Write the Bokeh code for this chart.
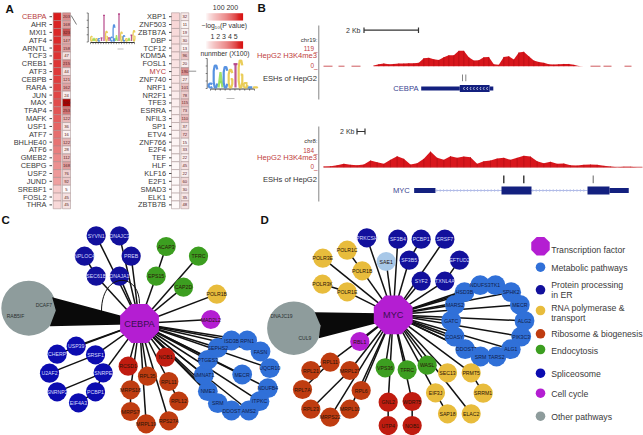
import numpy as np
from bokeh.plotting import figure
from bokeh.models import Range1d
from bokeh.core.properties import value
from bokeh.embed import file_html
from bokeh.resources import INLINE

# ---------------- Panel A data ----------------
genes_a1 = ["CEBPA","AHR","MXI1","ATF4","ARNTL","TCF3","CREB1","ATF3","CEBPB","RARA","JUN","MAX","TFAP4","MAFK","USF1","ATF7","BHLHE40","ATF6","GMEB2","CEBPG","USF2","JUND","SREBF1","FOSL2","THRA"]
logp_a1 = [250,240,235,232,228,222,218,214,208,204,198,192,182,172,162,152,146,134,122,112,102,96,48,38,34]
num_a1 = [203,168,323,147,158,47,215,44,121,162,24,500,253,122,36,16,122,28,112,168,76,92,5,45,45]
genes_a2 = ["XBP1","ZNF503","ZBTB7A","DBP","TCF12","KDM5A","FOSL1","MYC","ZNF740","NRF1","NR2F1","TFE3","ESRRA","NFIL3","SP1","ETV4","ZNF766","E2F4","TEF","HLF","KLF16","E2F1","SMAD3","ELK1","ZBTB7B"]
logp_a2 = [38,36,33,30,28,26,24,22,20,18,15,14,12,12,10,9,8,7,6,6,5,5,4,4,3]
num_a2 = [32,11,19,30,13,96,20,190,27,101,78,115,73,110,37,72,15,33,22,45,22,60,30,35,48]
colorbar_labels = ["100 200", "1 2 3 4 5"]

# motif logos: letter and information content (bits)
logo_cebpa_letters = list("GAGCTTGTCCATGCGATG")
logo_cebpa_bits = [.45,.35,.3,.3,.35,1.9,.8,.35,.4,1.25,.55,2.0,.75,.5,.3,.35,.55,.85]
logo_myc_letters = list("CCACGTGGCG")
logo_myc_bits = [.4,1.65,1.2,1.55,1.35,1.75,2.0,.45,.15,.15]

# ---------------- Panel B data (signal sampled on a regular grid) ----------------
cebpa_signal = [5,15,20,15,17,20,20,22,22,25,60,62,52,47,67,82,82,114,114,67,42,45,67,69,15,10,69,74,50,102,107,74,42,32,25,15,12,15,17,17,10,2,0]
myc_signal = [7,11,22,37,26,22,29,73,55,37,81,121,92,29,44,92,172,103,81,121,103,117,110,37,66,73,95,103,81,103,125,117,66,44,59,37,40,22,18,26,29,26,15,7,0,4,4,0,0]

# ---------------- Network data ----------------
C_COL = {"er":"#12109c","met":"#3070d8","pol":"#e8bc3c","rib":"#bf3c10","rib2":"#c01c10","endo":"#3c9e20","spl":"#0c0cb0","cyc":"#b41ed2","sae":"#a8c8e8"}
c_names = ["SYVN1","DNAJC3","NPLOC4","PREB","SEC61B","DNAJA1",
           "USP39","SRSF1","CHERP","SNRPE","U2AF2","SNRNP2","PCBP1","EIF4A3",
           "ACAP3","TFRC","EPS15","CAP2D","POLR1B","MAD2L2",
           "NOB1","RCSD1","RPL35","RPL11","MRPS18","RPL12","MRPS7","MRPL19","RPS27A"]
c_x = [287,357,252,392,287,357, 227,285,170,308,147,170,285,234, 497,594,467,549,649,631, 495,383,441,505,390,535,390,437,505]
c_y = [76,76,137,137,197,197, 407,433,431,487,488,544,544,577, 108,137,197,230,251,327, 440,467,497,513,538,572,603,640,631]
c_grp = ["er"]*6+["spl"]*8+["endo"]*4+["pol","cyc"]+["rib2"]*2+["rib"]*7
c_parent = [None,None,"SEC61B",None,None,None, None,None,None,None,"SRSF1","SNRPE","SNRPE","PCBP1", "EPS15",None,None,None,None,None, None,None,None,None,None,"RPL11","MRPS18",None,None]
c_ring_names = ["ISD3B","RPN1","FASN","UQCR10","NDUFB4","ITPKC","AMS2","DDOST","SRM","NME3","NMNAT1","PTGES3","SEPHS2","MECR"]
c_ring_x = [138,185,225,253,247,222,190,138,97,67,55,67,97,170]
c_ring_y = [60,60,93,143,203,242,270,270,248,212,163,118,82,162]

d_names = ["PRKCSH","SF3B4","PCBP1","SRSF7","SF3B5","SAE1","EFTUD2","SYF2","TXNL4A",
           "POLR3E","POLR1C","POLR1B","POLR3K","POLR1E","RBL1",
           "RPL11","RPL21","MRPL27","RPL7A","RPL6","RPL23","MRPL10","MRPS22",
           "GNL2","WDR75","UTP4","NOB1","VPS36","TFRC","WASL",
           "SEC13","PRMT5","EIF3J","SRRM1","SAP18","ELAC2"]
d_x = [334,427,497,568,461,392,612,497,568, 202,275,320,201,275,313, 224,166,283,141,317,166,283,224, 398,470,398,470,389,455,515, 576,647,540,683,576,647]
d_y = [82,86,86,86,149,153,149,212,212, 143,119,181,221,244,393, 455,480,480,537,540,596,596,620, 575,573,645,645,472,478,464, 487,487,547,548,610,610]
d_grp = ["er"]*5+["sae"]+["er"]*3+["pol"]*5+["cyc"]+["rib"]*8+["rib2"]*4+["endo"]*3+["pol"]*6
d_parent = [None,None,"SF3B5",None,None,None,"TXNL4A",None,None, None,"POLR1B",None,"POLR1E",None,None,
            None,"RPL11",None,"RPL11",None,"MRPL27",None,None, None,None,"GNL2","WDR75",None,None,None,
            None,None,None,"PRMT5","EIF3J",None]
d_ring_names = ["NDUFS3","TK1","SPHK2","MECR","ALG2","PIK3C3","ALG1","TARS2","SRM","DDOST","COASY","GATC","MARS2","HSD3B"]
d_ring_x = [134,180,227,253,267,257,226,183,135,89,57,47,58,87]
d_ring_y = [44,44,65,103,151,198,236,258,258,236,198,151,103,65]

legend_labels = ["Transcription factor","Metabolic pathways","Protein processing\nin ER","RNA polymerase &\ntransport","Ribosome & biogenesis","Endocytosis","Spliceosome","Cell cycle","Other pathways"]
legend_colors = ["#b41ed2","#3070d8","#12109c","#e8bc3c","#bf3c10","#3c9e20","#0c0cb0","#b41ed2","#8e9c9c"]

# ---------------- Canvas ----------------
FONT = value("Liberation Sans")
p = figure(width=643, height=435, x_range=Range1d(0,643), y_range=Range1d(435,0),
           output_backend="svg", toolbar_location=None, min_border=0)
p.axis.visible = False
p.grid.visible = False
p.outline_line_color = None
p.background_fill_color = "white"

def txt(x, y, s, size=7.5, color="#333333", align="right", base="middle", style="normal"):
    p.text([x],[y],text=[s],text_font=FONT,text_font_size=f"{size}px",text_color=color,
           text_align=align,text_baseline=base,text_font_style=style)

def seg(x0,y0,x1,y1,color="#333333",w=1.0,dash="solid"):
    p.segment([x0],[y0],[x1],[y1],line_color=color,line_width=w,line_dash=dash)

for s,x,y in (("A",5,8),("B",257,7),("C",1,219.5),("D",260,219)):
    txt(x,y,s,size=11.5,color="#111111",align="left",style="bold")

# ---------------- Panel A ----------------
def ramp(v, vmax, top=(216,20,20)):
    t = min(v/vmax,1.0)**0.9
    return "#%02x%02x%02x" % tuple(int(255+(c-255)*t) for c in top)

ROW_H = 7.84
def heat(genes, logp, num, x_lab, x1, x2, hl):
    n = len(genes)
    ys = [16.2+i*ROW_H for i in range(n)]
    p.rect([x1+4]*n, ys, 8, ROW_H, fill_color=[ramp(v,260) for v in logp], line_color="#a08a8a", line_width=0.5)
    p.rect([x2+4]*n, ys, 8, ROW_H, fill_color=[ramp(v,500,(170,0,0)) for v in num], line_color="#a08a8a", line_width=0.5)
    p.segment([x_lab+3]*n, ys, [x_lab+5.5]*n, ys, line_color="#333333", line_width=0.9)
    cols = ["#b83a3a" if g==hl else "#3a3a3a" for g in genes]
    p.text([x_lab]*n, ys, text=genes, text_font=FONT, text_font_size="7.4px", text_color=cols, text_align="right", text_baseline="middle")
    p.text([x2+4]*n, ys, text=[str(v) for v in num], text_font=FONT, text_font_size="4.2px",
           text_color=["#5a2020"]*n, text_align="center", text_baseline="middle")

heat(genes_a1, logp_a1, num_a1, 46, 52.7, 62, "CEBPA")
heat(genes_a2, logp_a2, num_a2, 165.5, 171, 180.3, "MYC")
seg(70.7,15,76,24,"#555555",0.8)
seg(188.5,70.7,195.7,70.7,"#777777",0.8)

# colour bars
t = np.linspace(0,1,37)
for yb in (16.4,44.5):
    p.rect(205+t*37, [yb]*37, 1.2, 7.4, fill_color=[ramp(v,1.0) for v in t], line_color=None)
txt(225,6.8,colorbar_labels[0],size=7,align="center")
txt(223.5,36,colorbar_labels[1],size=7,align="center")
txt(224,25.2,"\u2212log\u2081\u2080(P value)",size=6.8,align="center")
txt(224.5,52.6,"nunmber (X100)",size=6.8,align="center")

# logos drawn as scaled strokes
SHAPES = {
 "C":[[(.95,.82),(.7,1),(.3,1),(.05,.75),(.05,.25),(.3,0),(.7,0),(.95,.18)]],
 "G":[[(.95,.82),(.7,1),(.3,1),(.05,.75),(.05,.25),(.3,0),(.7,0),(.95,.2),(.95,.48),(.55,.48)]],
 "A":[[(.02,0),(.5,1),(.98,0)],[(.2,.35),(.8,.35)]],
 "T":[[(0,1),(1,1)],[(.5,1),(.5,0)]],
}
LOGO_COL = {"C":"#3a7fdc","G":"#e6c43c","A":"#8fdc50","T":"#b03a80"}

def logo(letters, bits, x0, step, base, scale, lw):
    xs,ys,cs = [],[],[]
    for i,(l,b) in enumerate(zip(letters,bits)):
        for stroke in SHAPES[l]:
            xs.append([x0+i*step+(u-.5)*step*0.8 for u,v in stroke])
            ys.append([base-1-v*(b*scale-2) for u,v in stroke])
            cs.append(LOGO_COL[l])
    p.multi_line(xs,ys,line_color=cs,line_width=lw,line_alpha=0.85)

def logo_axes(xa, x0, x1, ytop, base, n, nl):
    seg(xa,ytop,xa,base,"#333333",0.7)
    seg(x0,base+0.5,x1,base+0.5,"#222222",0.9)
    for i in range(n):
        xx = x0+i*(x1-x0)/(n-1)
        seg(xx,base+0.5,xx,base+2.2,"#222222",0.5)
    for i in range(nl):
        yy = ytop+i*(base-ytop)/(nl-1)
        seg(xa-1.5,yy,xa,yy,"#333333",0.6)

logo_axes(87.7,90,134,12.5,41.5,18,5)
logo(logo_cebpa_letters,logo_cebpa_bits,91,2.5,41.5,14.5,1.3)
logo_axes(206.7,210,254,58,88,10,5)
logo(logo_myc_letters,logo_myc_bits,210,5,88,14.5,2.2)
seg(117,48.5,123,48.5,"#bdbdbd",1)
seg(226,98,234,98,"#bdbdbd",1)

# ---------------- Panel B ----------------
BLUE = "#13207f"
def track(signal, x0, step, base, vmax, px):
    xs = x0+np.arange(len(signal))*step
    ys = base-np.array(signal)/vmax*px
    p.varea(xs,[base]*len(xs),ys,fill_color="#d8161c")
    p.segment(xs,[base]*len(xs),xs,ys,line_color="#b80f14",line_width=0.8)

seg(318.3,25,318.3,99,"#777777",0.9)
seg(318.3,126,318.3,201,"#777777",0.9)

# top track
track(cebpa_signal,373.3,5,65.7,119,16)
p.segment([323,338,351,590,603,624],[65.7]*6,[332,344,360,600,611,631],[65.7]*6,line_color="#c8484c",line_width=0.9)
seg(363.5,29.7,418,29.7,"#333333",1.2)
seg(363.5,27,363.5,32.5,"#333333",1.2)
seg(418,27,418,32.5,"#333333",1.2)
txt(360,29.5,"2 Kb",size=7,align="right")
txt(317,39,"chr19:",size=6,align="right")
txt(317,48,"119_",size=6.4,color="#c04040",align="right")
txt(316.5,54.5,"HepG2 H3K4me3",size=7.6,color="#c04040",align="right")
txt(317,65,"0_",size=6.4,color="#c04040",align="right")
txt(316.5,77.7,"ESHs of HepG2",size=7.6,color="#333333",align="right")
txt(418,88.3,"CEBPA",size=7.6,color="#3a3f8f",align="right")
seg(462,74,462,80.7,"#666666",0.8)
seg(465.3,74,465.3,80.7,"#666666",0.8)
p.rect([440,474.2,491],[88,88,88],[38.6,29.8,3.6],[3.8,7,3.8],fill_color=BLUE,line_color=None)
cx = np.arange(463,488,3.3)
p.multi_line([[c+1,c,c+1] for c in cx],[[86.5,88,89.5] for c in cx],line_color="white",line_width=0.7)

# bottom track
track(myc_signal,323.3,6.667,166.7,184,16.7)
seg(323,166.7,642,166.7,"#c8282c",0.7)
seg(356.5,131,364.5,131,"#333333",1.2)
seg(356.5,128,356.5,134,"#333333",1.2)
seg(364.5,128,364.5,134,"#333333",1.2)
txt(354,130.5,"2 Kb",size=7,align="right")
txt(317,140,"chr8:",size=6,align="right")
txt(317,149.5,"184_",size=6.4,color="#c04040",align="right")
txt(316.5,156.5,"HepG2 H3K4me3",size=7.6,color="#c04040",align="right")
txt(317,165.5,"0_",size=6.4,color="#c04040",align="right")
txt(316.5,179,"ESHs of HepG2",size=7.6,color="#333333",align="right")
txt(409.3,190,"MYC",size=7.6,color="#3a3f8f",align="right")
seg(503.3,175,503.3,182.7,"#222222",1.3)
seg(523.3,175,523.3,182.7,"#222222",1.3)
seg(592.7,175,592.7,182.7,"#555555",0.9)
seg(435,190,587,190,"#b4bee8",1.0)
ix = np.concatenate([np.arange(437,500,3.4),np.arange(533,586,3.4)])
p.multi_line([[c-1,c,c-1] for c in ix],[[188.6,190,191.4] for c in ix],line_color="#aab6e6",line_width=0.7)
p.rect([424.3,516,598,618.6],[190]*4,[21.3,30,22,19.3],[5,8,8,5],fill_color=BLUE,line_color=None)

# ---------------- Panels C & D ----------------
def octagon(cx,cy,r):
    a = np.pi/8+np.arange(8)*np.pi/4
    return list(cx+r*np.cos(a)),list(cy+r*np.sin(a))

def network(names,xs,ys,grps,parents,rn,rx,ry,hub,hubxy,gray_xy,gray_r,gray_labels,wedge,ox,oy,ring_ox,ring_oy):
    X = {n:ox+x/3 for n,x in zip(names,xs)}
    Y = {n:oy+y/3 for n,y in zip(names,ys)}
    hx,hy = hubxy
    x0,y0,x1,y1 = [],[],[],[]
    for n,pr in zip(names,parents):
        x0.append(X[n]);y0.append(Y[n])
        x1.append(X[pr] if pr else hx);y1.append(Y[pr] if pr else hy)
    rxs = [ring_ox+x/3 for x in rx]; rys=[ring_oy+y/3 for y in ry]
    x0 += rxs; y0 += rys; x1 += [hx]*len(rxs); y1 += [hy]*len(rys)
    p.segment(x0,y0,x1,y1,line_color="#111111",line_width=1.5)
    p.circle([gray_xy[0]],[gray_xy[1]],radius=gray_r,fill_color="#8e9c9c",line_color=None)
    p.patch([ox+w[0]/3 for w in wedge],[oy+w[1]/3 for w in wedge],fill_color="#0a0a0a",line_color=None)
    p.circle(rxs,rys,radius=9.9,fill_color=C_COL["met"],line_color=None)
    p.text(rxs,rys,text=rn,text_font=FONT,text_font_size="5.2px",text_color="#10204a",text_align="center",text_baseline="middle")
    nx=[X[n] for n in names]; ny=[Y[n] for n in names]
    p.circle(nx,ny,radius=9.6,fill_color=[C_COL[g] for g in grps],line_color=None)
    tc=["#d8dcff" if g in("er","spl") else "#2a1408" for g in grps]
    p.text(nx,ny,text=names,text_font=FONT,text_font_size="5.2px",text_color=tc,text_align="center",text_baseline="middle")
    ox8,oy8=octagon(hx,hy,21)
    p.patch(ox8,oy8,fill_color=C_COL["cyc"],line_color=None)
    txt(hx,hy+0.5,hub,size=9.2,color="#3a1050",align="center")
    for s,lx,ly in gray_labels:
        txt(ox+lx/3,oy+ly/3,s,size=5,color="#2a3030",align="center")

network(c_names,c_x,c_y,c_grp,c_parent,c_ring_names,c_ring_x,c_ring_y,"CEBPA",(139,323),(28.3,307.7),27.5,
        [("DCAF7",130,283),("RAB5IF",45,316)],[(155,260),(166,300),(148,347),(385,342),(385,322)],0,210,185,320)
p.bezier([101],[310.5],[139],[303],[101],[271],[139],[271],line_color="#111111",line_width=1.0)

network(d_names,d_x,d_y,d_grp,d_parent,d_ring_names,d_ring_x,d_ring_y,"MYC",(392.7,314.3),(293.3,327.7),26.7,
        [("DNAJC19",78,315),("CUL9",148,381)],[(178,305),(195,345),(190,383),(375,335),(375,308)],255,210,435,270)

# legend
lg_y = [249,267.7,284,307.3,333.7,350.3,373,393.3,416.7]
dot_y = [245.7,266.7,289.3,310,333.3,349,372.7,392.7,415.7]
for i,(lab,col,ly,dy) in enumerate(zip(legend_labels,legend_colors,lg_y,dot_y)):
    if i==0:
        a,b=octagon(540,dy,10)
        p.patch(a,b,fill_color=col,line_color=None)
    else:
        p.circle([540],[dy],radius=4.8,fill_color=col,line_color=None)
    for k,part in enumerate(lab.split("\n")):
        txt(550.7,ly+k*10,part,size=8.7,color="#3a3a3a",align="left")

open("out.html","w").write(file_html(p,INLINE))
